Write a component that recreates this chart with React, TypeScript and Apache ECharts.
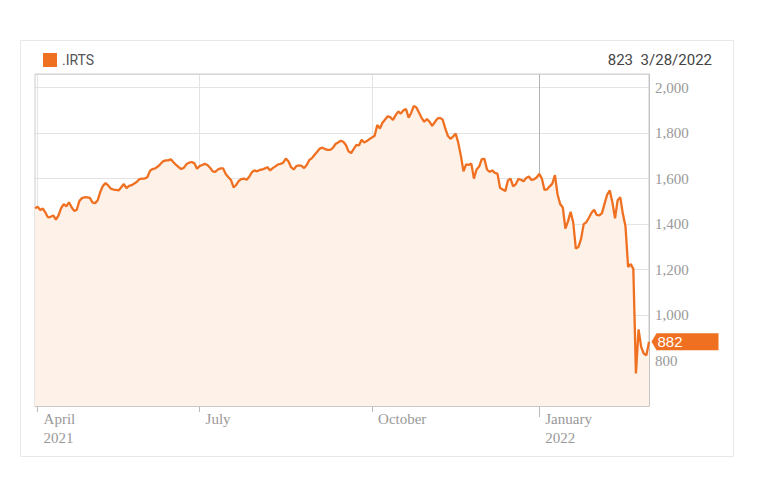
import React, { useEffect, useRef } from "react";
import * as echarts from "echarts";

// ---- data ----
const SERIES_NAME = ".IRTS";
const HEADER_VALUE = "823";
const HEADER_DATE = "3/28/2022";

const TRADING_RANGES: [string, string][] = [
  ["2021-03-31", "2022-02-25"],
  ["2022-03-24", "2022-03-29"],
];
const EXCHANGE_HOLIDAYS = [
  "2021-05-03",
  "2021-05-10",
  "2021-06-14",
  "2021-11-04",
  "2021-12-31",
  "2022-02-23",
];

const MONTH_NAMES = ["January", "February", "March", "April", "May", "June", "July", "August", "September", "October", "November", "December"];
const LABEL_MONTHS = [0, 3, 6, 9];

const valuesMar2021 = [1470];
const valuesQ2_2021 = [
  1476, 1462, 1468, 1450, 1429, 1432, 1438, 1420, 1438, 1470,
  1488, 1478, 1496, 1474, 1458, 1463, 1502, 1514, 1518, 1517,
  1515, 1495, 1492, 1505, 1542, 1568, 1580, 1570, 1556, 1552,
  1550, 1548, 1562, 1576, 1558, 1568, 1571, 1578, 1586, 1598,
  1600, 1600, 1606, 1634, 1642, 1645, 1653, 1664, 1676, 1680,
  1680, 1685, 1672, 1660, 1650, 1642, 1648, 1664, 1670, 1673,
  1667, 1643,
];
const valuesQ3_2021 = [
  1655, 1660, 1665, 1660, 1648, 1632, 1630, 1640, 1645, 1645,
  1620, 1606, 1594, 1561, 1572, 1590, 1598, 1600, 1595, 1608,
  1628, 1636, 1632, 1638, 1640, 1645, 1650, 1636, 1646, 1654,
  1662, 1665, 1670, 1688, 1676, 1650, 1640, 1655, 1658, 1656,
  1646, 1660, 1682, 1690, 1705, 1718, 1732, 1736, 1730, 1726,
  1726, 1735, 1752, 1759, 1766, 1762, 1748, 1720, 1712, 1731,
  1748, 1746, 1771, 1759, 1765, 1774,
];
const valuesQ4_2021 = [
  1781, 1788, 1836, 1820, 1846, 1860, 1874, 1870, 1858, 1878,
  1895, 1886, 1900, 1906, 1868, 1890, 1920, 1912, 1890, 1866,
  1850, 1862, 1850, 1832, 1848, 1864, 1867, 1860, 1822, 1788,
  1775, 1785, 1798, 1758, 1700, 1632, 1663, 1660, 1666, 1600,
  1640, 1653, 1686, 1687, 1640, 1630, 1636, 1625, 1622, 1560,
  1552, 1545, 1592, 1600, 1566, 1575, 1598, 1595, 1588, 1603,
  1609, 1594, 1597, 1605,
];
const valuesQ1_2022 = [
  1621, 1600, 1550, 1553, 1566, 1578, 1615, 1530, 1488, 1473,
  1380, 1412, 1454, 1407, 1292, 1300, 1335, 1400, 1408, 1428,
  1450, 1463, 1440, 1438, 1448, 1490, 1530, 1548, 1495, 1425,
  1505, 1518, 1445, 1390, 1212, 1224, 1203, 743, 937, 860,
  831, 823, 882,
];

const Y_MIN = 600;
const Y_MAX = 2060;
const Y_INTERVAL = 200;
const Y_LABELS = [800, 1000, 1200, 1400, 1600, 1800, 2000];

function tradingDays(): string[] {
  const out: string[] = [];
  for (const [a, b] of TRADING_RANGES) {
    const d = new Date(a + "T00:00:00Z");
    const end = new Date(b + "T00:00:00Z");
    while (d <= end) {
      const dow = d.getUTCDay();
      const s = d.toISOString().slice(0, 10);
      if (dow !== 0 && dow !== 6 && !EXCHANGE_HOLIDAYS.includes(s)) out.push(s);
      d.setUTCDate(d.getUTCDate() + 1);
    }
  }
  return out;
}

const ORANGE = "#f07021";

export default function App() {
  const ref = useRef<HTMLDivElement>(null);

  useEffect(() => {
    if (!ref.current) return;
    const chart = echarts.init(ref.current, null, { renderer: "svg" });

    const dates = tradingDays();
    const values = [...valuesMar2021, ...valuesQ2_2021, ...valuesQ3_2021, ...valuesQ4_2021, ...valuesQ1_2022];

    const monthOf = (s: string) => Number(s.slice(5, 7)) - 1;
    const markIdx = new Set<number>();
    let janIdx = -1;
    for (let i = 1; i < dates.length; i++) {
      const m = monthOf(dates[i]);
      if (m !== monthOf(dates[i - 1]) && LABEL_MONTHS.includes(m)) {
        markIdx.add(i);
        if (m === 0) janIdx = i;
      }
    }
    const firstMark = Math.min(...Array.from(markIdx));
    const isMark = (i: number) => markIdx.has(i);

    const lastIdx = values.length - 1;

    const option: any = {
      animation: false,
      backgroundColor: "#ffffff",
      title: [
        {
          text: HEADER_DATE,
          right: 44,
          top: 47,
          textStyle: { fontSize: 15, fontWeight: "normal", color: "#444", fontFamily: "Roboto" },
        },
        {
          text: HEADER_VALUE,
          right: 123,
          top: 47,
          textStyle: { fontSize: 15, fontWeight: "normal", color: "#444", fontFamily: "Roboto" },
        },
      ],
      legend: {
        data: [SERIES_NAME],
        left: 43,
        top: 53,
        padding: 0,
        icon: "rect",
        itemWidth: 14,
        itemHeight: 14,
        itemGap: 10,
        textStyle: { fontSize: 14, color: "#555", fontFamily: "Roboto" },
        selectedMode: false,
      },
      graphic: [
        {
          type: "rect",
          shape: { x: 20.5, y: 40.5, width: 713, height: 416 },
          style: { fill: "none", stroke: "#e8e8e8", lineWidth: 1 },
          silent: true,
        },
      ],
      grid: {
        left: 35,
        right: 112,
        top: 74,
        bottom: 75,
        show: true,
        z: 3,
        backgroundColor: "transparent",
        borderColor: "#cccccc",
        borderWidth: 1,
        outerBoundsMode: "none",
      },
      xAxis: [
        {
          type: "category",
          data: dates,
          boundaryGap: false,
          axisLine: { show: true, lineStyle: { color: "#c4c4c4" } },
          axisTick: {
            show: true,
            interval: (i: number) => isMark(i),
            length: 6,
            lineStyle: { color: "#bbbbbb" },
          },
          axisLabel: {
            interval: (i: number) => isMark(i),
            margin: 3,
            align: "left",
            padding: [0, 0, 0, 6],
            color: "#999999",
            fontFamily: "Liberation Serif",
            fontSize: 15,
            lineHeight: 19,
            formatter: (val: string, idx: number) => {
              const m = monthOf(val);
              const name = MONTH_NAMES[m];
              if (m === 0 || idx === firstMark) return name + "\n" + val.slice(0, 4);
              return name;
            },
          },
          splitLine: {
            show: true,
            interval: (i: number) => isMark(i),
            lineStyle: { color: ["#e3e3e3", "#e3e3e3", "#e3e3e3", "#b4b4b4"], width: 1 },
          },
        },
        {
          type: "category",
          data: dates,
          boundaryGap: false,
          position: "bottom",
          axisLine: { show: false },
          axisLabel: { show: false },
          splitLine: { show: false },
          axisTick: {
            show: true,
            interval: (i: number) => i === janIdx,
            length: 11,
            lineStyle: { color: "#bbbbbb" },
          },
        },
      ],
      yAxis: {
        type: "value",
        position: "right",
        min: Y_MIN,
        max: Y_MAX,
        interval: Y_INTERVAL,
        axisLine: { show: true, lineStyle: { color: "#bbbbbb" } },
        axisTick: { show: false },
        axisLabel: {
          margin: 6,
          color: "#999999",
          fontFamily: "Liberation Serif",
          fontSize: 15,
          formatter: (v: number) => (Y_LABELS.includes(v) ? v.toLocaleString("en-US") : ""),
        },
        splitLine: { show: true, lineStyle: { color: "#e3e3e3", width: 1 } },
      },
      series: [
        {
          name: SERIES_NAME,
          type: "line",
          data: values,
          xAxisIndex: 0,
          symbol: "none",
          clip: false,
          color: ORANGE,
          lineStyle: { color: ORANGE, width: 2.3 },
          areaStyle: { color: "#fdf1e8", opacity: 1 },
          markPoint: {
            silent: true,
            symbol: "path://M0,8.5L5,0L67,0L67,17L5,17Z",
            symbolSize: [67, 17],
            symbolOffset: [36, 0],
            itemStyle: { color: ORANGE },
            label: {
              show: true,
              position: "inside",
              offset: [-15, 0],
              color: "#ffffff",
              fontSize: 15,
              fontFamily: "Liberation Sans",
              formatter: (p: any) => String(p.value),
            },
            data: [{ coord: [dates[lastIdx], values[lastIdx]], value: values[lastIdx] }],
          },
        },
      ],
    };

    chart.setOption(option);
    return () => chart.dispose();
  }, []);

  return (
    <div
      ref={ref}
      style={{ position: "fixed", left: 0, top: 0, width: 761, height: 481 }}
    />
  );
}
